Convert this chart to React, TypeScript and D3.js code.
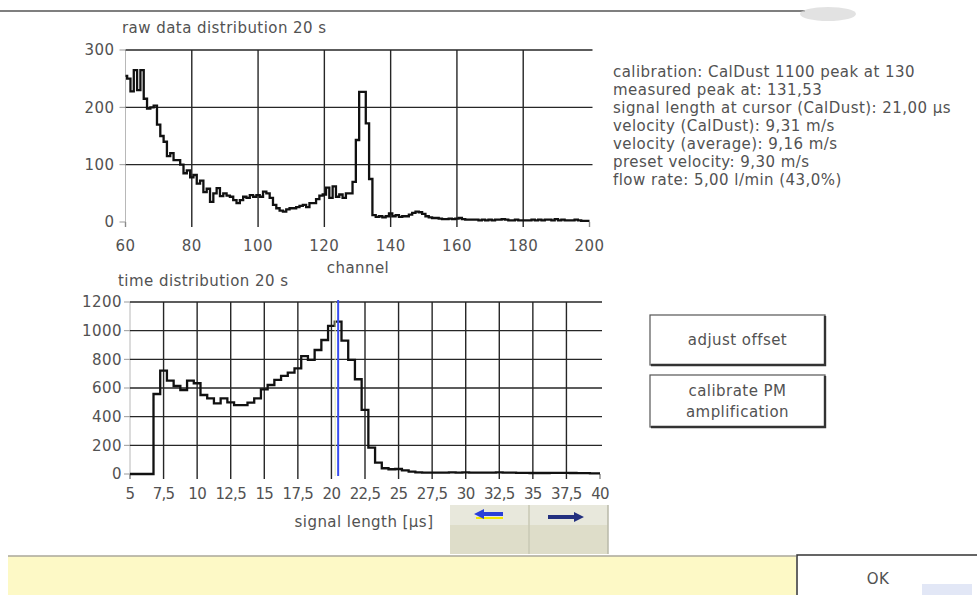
import React, { useRef, useEffect } from "react";
import * as d3 from "d3";

// raw data distribution: one count per channel, starting at channel 60
const rawStartChannel = 60;
const rawCounts = [
  255, 250, 228, 265, 230, 265, 215, 198, 200, 203,
  170, 150, 140, 115, 120, 108, 108, 100, 85, 90,
  78, 82, 67, 72, 52, 58, 35, 50, 59, 45,
  50, 46, 44, 38, 33, 38, 44, 42, 47, 44,
  47, 44, 53, 50, 42, 30, 24, 20, 18, 22,
  24, 24, 26, 28, 30, 26, 33, 33, 40, 46,
  48, 60, 42, 62, 44, 48, 42, 50, 50, 70,
  143, 227, 227, 172, 75, 12, 9, 10, 8, 10,
  15, 10, 12, 9, 10, 10, 13, 16, 18, 17,
  14, 10, 8, 7, 7, 6, 5, 5, 6, 5,
  6, 7, 5, 4, 4, 4, 4, 3, 4, 3,
  4, 3, 4, 4, 5, 4, 3, 3, 4, 3,
  3, 3, 3, 4, 3, 4, 3, 4, 4, 3,
  5, 3, 4, 3, 3, 3, 4, 3, 2, 2,
  2,
];
const rawXTicks = [60, 80, 100, 120, 140, 160, 180, 200];
const rawYTicks = [0, 100, 200, 300];

// time distribution: counts per 0.5 µs bin, bin centres from 5 µs
const timeStart = 5;
const timeBinWidth = 0.5;
const timeCounts = [
  0, 0, 0, 0,
  558, 721, 651, 614, 586, 651, 633, 551, 528, 493,
  528, 500, 481, 481, 498, 528, 591, 621, 656, 684,
  707, 737, 823, 796, 865, 935, 1033, 1063, 930, 796,
  661, 447, 184, 79, 40, 33, 35, 25, 16, 12,
  10, 9, 10, 10, 11, 10, 12, 10, 9, 10,
  10, 12, 10, 9, 8, 8, 7, 7, 7, 8,
  8, 8, 7, 6, 6, 5, 5,
];
const timeXTicks = [5, 7.5, 10, 12.5, 15, 17.5, 20, 22.5, 25, 27.5, 30, 32.5, 35, 37.5, 40];
const timeYTicks = [0, 200, 400, 600, 800, 1000, 1200];
const cursorPosition = 20.5;

const infoLines = [
  "calibration: CalDust 1100 peak at 130",
  "measured peak at: 131,53",
  "signal length at cursor (CalDust): 21,00 µs",
  "velocity (CalDust): 9,31 m/s",
  "velocity (average): 9,16 m/s",
  "preset velocity: 9,30 m/s",
  "flow rate: 5,00 l/min (43,0%)",
];

const FONT = "'DejaVu Sans', sans-serif";
const TEXT = "#525252";
const GRID = "#262626";

export default function App() {
  const svgRef = useRef<SVGSVGElement | null>(null);

  useEffect(() => {
    const svg = d3.select(svgRef.current);
    svg.selectAll("*").remove();
    const fmt = (v: number) => String(v).replace(".", ",");

    svg.append("rect").attr("width", 977).attr("height", 595).attr("fill", "#fff");
    // window top edge and a faint blob at the top right
    svg.append("line").attr("x1", 0).attr("x2", 805).attr("y1", 11).attr("y2", 11)
      .attr("stroke", "#555").attr("stroke-width", 1.5);
    svg.append("ellipse").attr("cx", 828).attr("cy", 14).attr("rx", 28).attr("ry", 7)
      .attr("fill", "#d6d6d6").attr("opacity", 0.7);

    // ---------- raw data distribution ----------
    const x1 = d3.scaleLinear().domain([60, 200]).range([125.5, 589.5]);
    const y1 = d3.scaleLinear().domain([0, 300]).range([222, 50]);
    const g1 = svg.append("g");

    g1.append("line").attr("x1", x1(60)).attr("x2", x1(60)).attr("y1", y1(300)).attr("y2", y1(0) + 5)
      .attr("stroke", "#b8b8b8").attr("stroke-width", 1);
    g1.selectAll(".vg").data(rawXTicks).join("line")
      .attr("x1", (d) => x1(d)).attr("x2", (d) => x1(d))
      .attr("y1", (d) => (d === 60 || d === 200 ? y1(0) : y1(300)))
      .attr("y2", y1(0) + 5)
      .attr("stroke", (d) => (d === 60 || d === 200 ? "#888" : GRID)).attr("stroke-width", 1.4);
    g1.selectAll(".hg").data(rawYTicks.filter((d) => d > 0)).join("line")
      .attr("x1", x1(60)).attr("x2", x1(200) + 3)
      .attr("y1", (d) => y1(d)).attr("y2", (d) => y1(d))
      .attr("stroke", GRID).attr("stroke-width", 1.4);
    g1.selectAll(".yt").data(rawYTicks).join("line")
      .attr("x1", x1(60) - 6).attr("x2", x1(60))
      .attr("y1", (d) => y1(d)).attr("y2", (d) => y1(d))
      .attr("stroke", "#999").attr("stroke-width", 1);
    g1.selectAll(".yl").data(rawYTicks).join("text")
      .attr("x", x1(60) - 11).attr("y", (d) => y1(d)).attr("dy", "0.35em")
      .attr("text-anchor", "end").text((d) => d);
    g1.selectAll(".xl").data(rawXTicks).join("text")
      .attr("x", (d) => x1(d)).attr("y", 246).attr("dy", "0.35em")
      .attr("text-anchor", "middle").text((d) => d);
    g1.append("text").attr("x", 122).attr("y", 28).attr("dy", "0.35em").text("raw data distribution 20 s");
    g1.append("text").attr("x", 358).attr("y", 268).attr("dy", "0.35em").attr("text-anchor", "middle").text("channel");

    const rawLine = d3.line<number>()
      .x((_, i) => x1(rawStartChannel + i))
      .y((d) => y1(d))
      .curve(d3.curveStep);
    g1.append("path").datum(rawCounts).attr("d", rawLine)
      .attr("fill", "none").attr("stroke", "#111").attr("stroke-width", 2.3);

    // ---------- time distribution ----------
    const x2 = d3.scaleLinear().domain([5, 40]).range([130, 600]);
    const y2 = d3.scaleLinear().domain([0, 1200]).range([474, 302]);
    const g2 = svg.append("g");

    g2.append("line").attr("x1", x2(5)).attr("x2", x2(5)).attr("y1", y2(1200)).attr("y2", y2(0) + 5)
      .attr("stroke", "#b8b8b8").attr("stroke-width", 1);
    g2.selectAll(".vg").data(timeXTicks).join("line")
      .attr("x1", (d) => x2(d)).attr("x2", (d) => x2(d))
      .attr("y1", (d) => (d === 5 || d === 40 ? y2(0) : y2(1200)))
      .attr("y2", y2(0) + 5)
      .attr("stroke", (d) => (d === 5 || d === 40 ? "#888" : GRID)).attr("stroke-width", 1.4);
    g2.selectAll(".hg").data(timeYTicks.filter((d) => d > 0)).join("line")
      .attr("x1", x2(5)).attr("x2", x2(40) + 2)
      .attr("y1", (d) => y2(d)).attr("y2", (d) => y2(d))
      .attr("stroke", GRID).attr("stroke-width", 1.4);
    g2.selectAll(".yt").data(timeYTicks).join("line")
      .attr("x1", x2(5) - 6).attr("x2", x2(5))
      .attr("y1", (d) => y2(d)).attr("y2", (d) => y2(d))
      .attr("stroke", "#999").attr("stroke-width", 1);
    g2.selectAll(".yl").data(timeYTicks).join("text")
      .attr("x", x2(5) - 8).attr("y", (d) => y2(d)).attr("dy", "0.35em")
      .attr("text-anchor", "end").text((d) => d);
    g2.selectAll(".xl").data(timeXTicks).join("text")
      .attr("class", "tight")
      .attr("x", (d) => x2(d)).attr("y", 494).attr("dy", "0.35em")
      .attr("text-anchor", "middle").text(fmt);
    g2.append("text").attr("x", 118).attr("y", 281).attr("dy", "0.35em").text("time distribution 20 s");
    g2.append("text").attr("x", 364).attr("y", 522).attr("dy", "0.35em").attr("text-anchor", "middle").text("signal length [µs]");

    const timeLine = d3.line<number>()
      .x((_, i) => x2(timeStart + i * timeBinWidth))
      .y((d) => y2(d))
      .curve(d3.curveStep);
    g2.append("path").datum(timeCounts).attr("d", timeLine)
      .attr("fill", "none").attr("stroke", "#111").attr("stroke-width", 2.3);

    // cursor
    g2.append("line").attr("x1", x2(cursorPosition) - 3).attr("x2", x2(cursorPosition) - 3)
      .attr("y1", y2(1200)).attr("y2", y2(0) + 2).attr("stroke", "#dfe8b0").attr("stroke-width", 1);
    g2.append("line").attr("x1", x2(cursorPosition)).attr("x2", x2(cursorPosition))
      .attr("y1", y2(1200) - 2).attr("y2", y2(0) + 2).attr("stroke", "#3a4ff0").attr("stroke-width", 2);

    // ---------- info text ----------
    svg.append("g").selectAll("text").data(infoLines).join("text")
      .attr("x", 613).attr("y", (_, i) => 72 + i * 17.9).attr("dy", "0.35em").text((d) => d);

    // ---------- buttons ----------
    const btn = svg.append("g");
    const button = (x: number, y: number, w: number, h: number, lines: string[]) => {
      btn.append("rect").attr("x", x).attr("y", y).attr("width", w).attr("height", h)
        .attr("fill", "#fff").attr("stroke", "#555").attr("stroke-width", 1.2);
      btn.append("path").attr("d", `M${x + 1},${y + h} H${x + w} V${y + 1}`)
        .attr("fill", "none").attr("stroke", "#333").attr("stroke-width", 2.4);
      lines.forEach((t, i) => {
        btn.append("text").attr("x", x + w / 2)
          .attr("y", y + h / 2 + (i - (lines.length - 1) / 2) * 21).attr("dy", "0.35em")
          .attr("text-anchor", "middle").text(t);
      });
    };
    button(650, 315, 175, 50, ["adjust offset"]);
    button(650, 375, 175, 52, ["calibrate PM", "amplification"]);

    // arrow buttons
    const ar = svg.append("g");
    ar.append("rect").attr("x", 450).attr("y", 505).attr("width", 158).attr("height", 49).attr("fill", "#deddc9");
    ar.append("rect").attr("x", 450).attr("y", 505).attr("width", 158).attr("height", 20).attr("fill", "#e8e8dc");
    ar.append("line").attr("x1", 529).attr("x2", 529).attr("y1", 505).attr("y2", 554).attr("stroke", "#c9c8b4").attr("stroke-width", 1.5);
    ar.append("line").attr("x1", 608).attr("x2", 608).attr("y1", 505).attr("y2", 554).attr("stroke", "#b8b8a8").attr("stroke-width", 1.5);
    ar.append("line").attr("x1", 476).attr("x2", 503).attr("y1", 518).attr("y2", 518).attr("stroke", "#f2e600").attr("stroke-width", 2);
    ar.append("path").attr("d", "M474,514 L484,509 L484,512 L503,512 L503,516 L484,516 L484,519 Z").attr("fill", "#2a3fd8");
    ar.append("path").attr("d", "M584,517 L574,512 L574,515 L548,515 L548,519 L574,519 L574,522 Z").attr("fill", "#23307f");

    // bottom bar
    svg.append("rect").attr("x", 8).attr("y", 556).attr("width", 788).attr("height", 39).attr("fill", "#fdf9c6");
    svg.append("line").attr("x1", 8).attr("x2", 796).attr("y1", 556).attr("y2", 556).attr("stroke", "#aaa79a").attr("stroke-width", 1.5);
    svg.append("rect").attr("x", 922).attr("y", 584).attr("width", 50).attr("height", 11).attr("fill", "#e2e7f6");
    svg.append("path").attr("d", "M797,595 V555 H977").attr("fill", "none").attr("stroke", "#333").attr("stroke-width", 1.5);
    svg.append("text").attr("x", 878).attr("y", 579).attr("dy", "0.35em").attr("text-anchor", "middle").text("OK");

    svg.selectAll("text").attr("font-family", FONT).attr("font-size", 15).attr("fill", TEXT)
      .attr("letter-spacing", 0.45);
    svg.selectAll("text.tight").attr("letter-spacing", -0.7);
  }, []);

  return (
    <div>
      <svg ref={svgRef} width={977} height={595} style={{ position: "absolute", left: 0, top: 0 }} />
    </div>
  );
}
